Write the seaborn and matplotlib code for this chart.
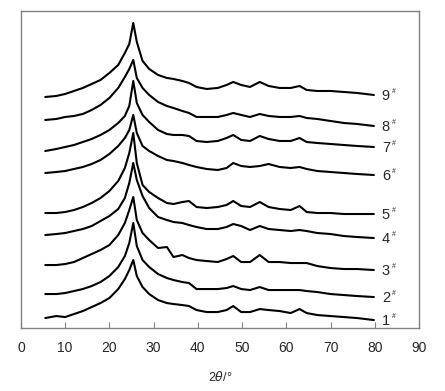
import matplotlib
matplotlib.use("Agg")
import matplotlib.pyplot as plt
import seaborn as sns
import pandas as pd

# 2theta grid (deg) and stacked intensities (arbitrary units, offsets included)
two_theta = [5.5, 8, 10, 12, 14, 16, 18, 20, 22, 23.5, 24.5, 25.4, 26.2, 27.5, 29, 31, 33, 34.5,
             36.5, 38, 39.7, 42, 44.5, 46.5, 48, 49.8, 51.8, 54, 56, 58.5, 61, 63, 64.6, 67,
             70, 73, 76, 79.8]

s1 = [10, 12, 11, 14, 17, 21, 25, 30, 39, 49, 58, 68, 52, 41, 34, 28, 25, 24,
      23, 22, 18, 16, 16, 18, 22, 16, 16, 19, 18, 17, 15, 19, 15, 13, 12, 11, 10, 8]
s2 = [34, 34, 35, 37, 39, 42, 46, 52, 61, 72, 85, 105, 82, 68, 61, 54, 50, 48,
      46, 45, 39, 39, 39, 40, 42, 39, 38, 41, 38, 38, 38, 38, 37, 36, 34, 33, 32, 31]
s3 = [63, 63, 64, 66, 70, 74, 78, 83, 93, 105, 118, 131, 108, 95, 88, 80, 81, 71,
      73, 70, 68, 67, 66, 69, 72, 66, 66, 73, 66, 66, 65, 65, 65, 62, 60, 59, 59, 58]
s4 = [93, 94, 95, 97, 99, 102, 107, 112, 119, 130, 145, 165, 148, 132, 120, 111, 108, 106,
      105, 103, 101, 99, 99, 101, 104, 102, 98, 102, 99, 98, 97, 98, 97, 95, 94, 92, 91, 90]
s5 = [115, 115, 116, 118, 121, 125, 130, 137, 147, 160, 175, 195, 165, 143, 136, 130, 125, 124,
      126, 127, 121, 120, 121, 123, 127, 122, 121, 126, 121, 119, 118, 122, 116, 115, 115, 114, 114, 114]
s6 = [155, 156, 157, 159, 161, 164, 168, 174, 182, 190, 198, 213, 195, 182, 177, 172, 168, 167,
      165, 163, 161, 159, 158, 160, 165, 162, 161, 162, 164, 161, 160, 161, 159, 157, 156, 155, 154, 153]
s7 = [177, 179, 181, 183, 186, 189, 193, 198, 205, 212, 222, 247, 225, 213, 206, 198, 194, 193,
      193, 192, 187, 186, 187, 190, 193, 188, 187, 192, 189, 187, 187, 190, 186, 185, 184, 183, 182, 181]
s8 = [208, 209, 211, 212, 214, 218, 223, 230, 240, 251, 259, 268, 250, 240, 233, 226, 222, 220,
      217, 215, 211, 211, 211, 213, 215, 213, 211, 214, 212, 211, 211, 212, 210, 209, 207, 205, 204, 202]
s9 = [231, 232, 234, 237, 240, 244, 248, 255, 263, 275, 284, 305, 286, 267, 259, 253, 250, 249,
      247, 245, 241, 239, 240, 243, 246, 243, 241, 246, 242, 240, 240, 242, 238, 237, 237, 236, 235, 233]

samples = ["1", "2", "3", "4", "5", "6", "7", "8", "9"]
curves = [s1, s2, s3, s4, s5, s6, s7, s8, s9]

sns.set_style("white")
plt.rcParams['font.family'] = ['Liberation Sans', 'DejaVu Sans']

fig = plt.figure(figsize=(4.45, 3.91), dpi=100)
ax = fig.add_axes([0.047, 0.161, 0.8946, 0.811])

for name, ys in zip(samples, curves):
    df = pd.DataFrame({"2theta": two_theta, "I": ys})
    sns.lineplot(data=df, x="2theta", y="I", color="black", linewidth=1.5, sort=False, ax=ax)
    ax.text(81.6, ys[-1] - 1, name, fontsize=10.5, va="center", ha="left")
    # small superscript mark
    ax.annotate("#", xy=(81.6, ys[-1] - 1), xytext=(7, 3), textcoords="offset points",
                fontsize=5, va="center", ha="left")

ax.set_xlim(0, 90)
ax.set_ylim(0, 317)
ax.set_xticks(range(0, 91, 10))
ax.set_yticks([])
ax.set_xlabel(r"2$\theta$/°", fontsize=9, labelpad=11)
ax.set_ylabel("")
ax.tick_params(axis="x", direction="in", length=4, color="#808080", labelsize=10, pad=9, bottom=True)
for sp in ax.spines.values():
    sp.set_color("#808080")
    sp.set_linewidth(1)

fig.savefig("out.png", dpi=100)
